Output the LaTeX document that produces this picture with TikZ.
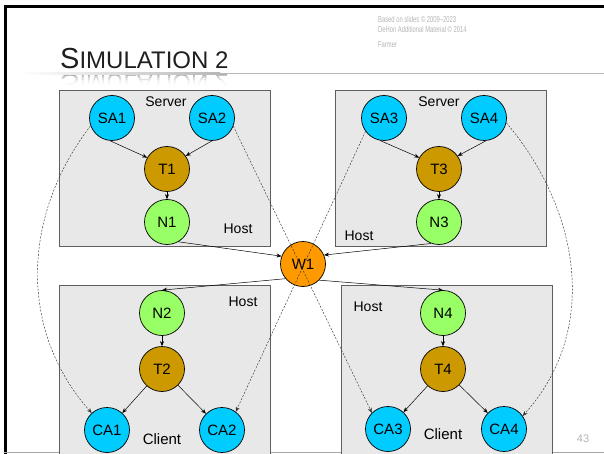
\documentclass[tikz,border=0pt]{standalone}
\usepackage{fontspec}
\setmainfont{Liberation Sans}
\usetikzlibrary{arrows.meta,calc}

\definecolor{sacyan}{HTML}{00CCFF}
\definecolor{tgold}{HTML}{CC9900}
\definecolor{ngreen}{HTML}{99FF66}
\definecolor{worange}{HTML}{FF9900}
\definecolor{boxfill}{HTML}{E8E8E8}
\definecolor{boxline}{HTML}{5F5F5F}
\definecolor{faint}{HTML}{B4B4B4}

\begin{document}
\begin{tikzpicture}[x=1pt,y=-1pt,
  every node/.style={font=\fontsize{15}{17}\selectfont},
  hostbox/.style={fill=boxfill,draw=boxline,line width=0.9pt},
  proc/.style={circle,draw=black,line width=0.7pt,minimum size=45pt,inner sep=0pt},
  sa/.style={proc,fill=sacyan},
  tp/.style={proc,fill=tgold},
  np/.style={proc,fill=ngreen},
  wp/.style={proc,fill=worange},
  lbl/.style={font=\fontsize{14}{16}\selectfont,inner sep=0pt},
  flow/.style={-{Stealth[length=5pt,width=4pt]},line width=0.5pt},
  link/.style={-{Stealth[length=5pt,width=4pt]},line width=0.45pt,draw=black!80,
               dash pattern=on 2pt off 1.5pt},
  credit/.style={text=faint,inner sep=0pt,anchor=north west,xscale=0.68,
                 align=left,font=\fontsize{8.6}{10}\selectfont}
]
\useasboundingbox (0,0) rectangle (604,454);
\clip (0,0) rectangle (604,454);

% header credits
\node[credit] (credA) at (378,16) {Based on slides © 2009–2023\\DeHon Additional Material © 2014};
\node[credit] (credB) at (378,41) {Farmer};

% title, rule and a fading reflection
\node[anchor=base west,inner sep=0pt,text=black!88] (title) at (60,68.5)
  {\fontsize{29}{30}\selectfont S\fontsize{24}{25}\selectfont IMULATION 2};
\begin{scope}
  \clip (8,74.4) rectangle (604,85);
  \node[anchor=base west,inner sep=0pt,text=black!30,yscale=-1] (titlerefl) at (60,75)
    {\fontsize{29}{30}\selectfont S\fontsize{24}{25}\selectfont IMULATION 2};
  \fill[white,opacity=0.35] (8,76.5) rectangle (604,78.5);
  \fill[white,opacity=0.6] (8,78.5) rectangle (604,80.5);
  \fill[white,opacity=0.8] (8,80.5) rectangle (604,82.5);
  \fill[white,opacity=0.93] (8,82.5) rectangle (604,85);
\end{scope}
\shade[left color=white,right color=black!28] (20,73) rectangle (220,74.4);
\fill[black!28] (220,73) rectangle (604,74.4);

% slide frame
\fill[black] (4,5) rectangle (604,8);
\fill[black] (4,5) rectangle (7,454);
\draw[black!35,line width=0.8pt] (4,452.6) -- (604,452.6);

% host boxes
\draw[hostbox] (59,90) rectangle (270,246);
\draw[hostbox] (335,90) rectangle (546,246);
\draw[hostbox] (59,285) rectangle (270,470);
\draw[hostbox] (341,285) rectangle (552,470);

% box labels
\node[lbl] (srvA) at (166,102) {Server};
\node[lbl] (hostA) at (238,229) {Host};
\node[lbl] (srvB) at (439,102) {Server};
\node[lbl] (hostB) at (359,236) {Host};
\node[lbl] (hostC) at (243,302) {Host};
\node[lbl,font=\fontsize{15}{17}\selectfont] (cliC) at (162,439) {Client};
\node[lbl] (hostD) at (368,307) {Host};
\node[lbl,font=\fontsize{15}{17}\selectfont] (cliD) at (443,434) {Client};

% processes
\node[sa] (SA1) at (112,118) {SA1};
\node[sa] (SA2) at (212,118) {SA2};
\node[tp] (T1) at (167,169) {T1};
\node[np] (N1) at (167,222) {N1};

\node[sa] (SA3) at (384,118) {SA3};
\node[sa] (SA4) at (484,118) {SA4};
\node[tp] (T3) at (439,169) {T3};
\node[np] (N3) at (439,222) {N3};

\node[wp] (W1) at (303,264) {W1};

\node[np] (N2) at (162,313) {N2};
\node[tp] (T2) at (162,369) {T2};
\node[sa] (CA1) at (107,430) {CA1};
\node[sa] (CA2) at (222,430) {CA2};

\node[np] (N4) at (443,313) {N4};
\node[tp] (T4) at (443,369) {T4};
\node[sa] (CA3) at (388,429) {CA3};
\node[sa] (CA4) at (504,429) {CA4};

% message flow
\draw[flow] (SA1.-95) -- (T1.150);
\draw[flow] (SA2.-90) -- (T1.35);
\draw[flow] (T1) -- (N1);
\draw[flow] (SA3.-100) -- (T3.150);
\draw[flow] (SA4.-85) -- (T3.35);
\draw[flow] (T3) -- (N3);
\draw[flow] (N1.-60) -- (W1.160);
\draw[flow] (N3.-110) -- (W1.23);
\draw[flow] (W1.220) -- (N2.north);
\draw[flow] (W1.-45) -- (N4.north);
\draw[flow] (N2) -- (T2);
\draw[flow] (T2) -- (CA1);
\draw[flow] (T2) -- (CA2);
\draw[flow] (N4) -- (T4);
\draw[flow] (T4) -- (CA3);
\draw[flow] (T4) -- (CA4);

% logical links between server and client applications
\draw[link] (SA1.200) .. controls (22,215) and (18,330) .. (CA1.132);
\draw[link] (SA2.-21) -- (CA3.135);
\draw[link] (SA3.216) -- (CA2.53);
\draw[link] (SA4.-12) .. controls (580,210) and (600,330) .. (CA4.35);

% page number
\node[text=faint,inner sep=0pt,font=\fontsize{11}{13}\selectfont] (pageno) at (583,439) {43};
\end{tikzpicture}
\end{document}
